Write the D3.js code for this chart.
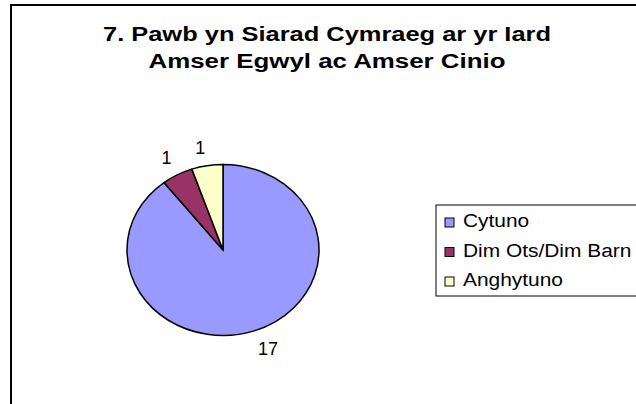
<!DOCTYPE html>
<html>
<head>
<meta charset="utf-8">
<script src="https://cdn.jsdelivr.net/npm/d3@7"></script>
<style>
  body { margin: 0; background: #fff; }
  svg { display: block; font-family: "Liberation Sans", Arial, sans-serif; }
</style>
</head>
<body>
<script>
var categories = ["Cytuno", "Dim Ots/Dim Barn", "Anghytuno"];
var values = [17, 1, 1];
var colors = ["#9999ff", "#993366", "#ffffcc"];
var titleLines = ["7. Pawb yn Siarad Cymraeg ar yr Iard", "Amser Egwyl ac Amser Cinio"];

var width = 636, height = 404;

var svg = d3.select("body")
    .append("svg")
    .attr("width", width)
    .attr("height", height);

// chart frame (runs off the right and bottom)
svg.append("rect")
    .attr("x", 11)
    .attr("y", 5)
    .attr("width", 700)
    .attr("height", 500)
    .attr("fill", "#fff")
    .attr("stroke", "#000")
    .attr("stroke-width", 2);

// title
var titleLen = [448, 357];
svg.selectAll("text.title")
    .data(titleLines)
    .enter().append("text")
    .attr("class", "title")
    .attr("x", 327)
    .attr("y", function (d, i) { return 41 + i * 27; })
    .attr("text-anchor", "middle")
    .attr("font-size", 20)
    .attr("font-weight", "bold")
    .attr("textLength", function (d, i) { return titleLen[i]; })
    .attr("lengthAdjust", "spacingAndGlyphs")
    .text(function (d) { return d; });

// pie (drawn as an ellipse)
var cx = 223, cy = 250, rx = 96, ry = 85.5;

var pie = d3.pie().sort(null).value(function (d) { return d; });
var arcs = pie(values);
var arc = d3.arc().innerRadius(0).outerRadius(rx);

var pieG = svg.append("g")
    .attr("transform", "translate(" + cx + "," + cy + ") scale(1," + (ry / rx) + ")");

pieG.selectAll("path")
    .data(arcs)
    .enter().append("path")
    .attr("d", arc)
    .attr("fill", function (d, i) { return colors[i]; })
    .attr("stroke", "#000")
    .attr("stroke-width", 1.5)
    .attr("vector-effect", "non-scaling-stroke");

// data labels
var gap = 12;
svg.selectAll("text.lbl")
    .data(arcs)
    .enter().append("text")
    .attr("class", "lbl")
    .attr("font-size", 18)
    .attr("x", function (d) {
        var a = (d.startAngle + d.endAngle) / 2;
        return cx + (rx + gap) * Math.sin(a);
    })
    .attr("y", function (d) {
        var a = (d.startAngle + d.endAngle) / 2;
        var y = cy - (ry + gap) * Math.cos(a);
        return Math.cos(a) < 0 ? y + 13 : y;
    })
    .attr("text-anchor", function (d) {
        var s = Math.sin((d.startAngle + d.endAngle) / 2);
        return s > 0.1 ? "start" : (s < -0.1 ? "end" : "middle");
    })
    .text(function (d) { return d.value; });

// legend
var legend = svg.append("g");
legend.append("rect")
    .attr("x", 436)
    .attr("y", 205)
    .attr("width", 300)
    .attr("height", 91)
    .attr("fill", "#fff")
    .attr("stroke", "#000")
    .attr("stroke-width", 1);

var item = legend.selectAll("g.item")
    .data(categories)
    .enter().append("g")
    .attr("class", "item")
    .attr("transform", function (d, i) { return "translate(0," + (227 + i * 29.5) + ")"; });

item.append("rect")
    .attr("x", 445)
    .attr("y", -9)
    .attr("width", 9)
    .attr("height", 9)
    .attr("fill", function (d, i) { return colors[i]; })
    .attr("stroke", "#000")
    .attr("stroke-width", 1);

item.append("text")
    .attr("transform", "translate(463,0) scale(1.1,1)")
    .attr("font-size", 19)
    .text(function (d) { return d; });
</script>
</body>
</html>
